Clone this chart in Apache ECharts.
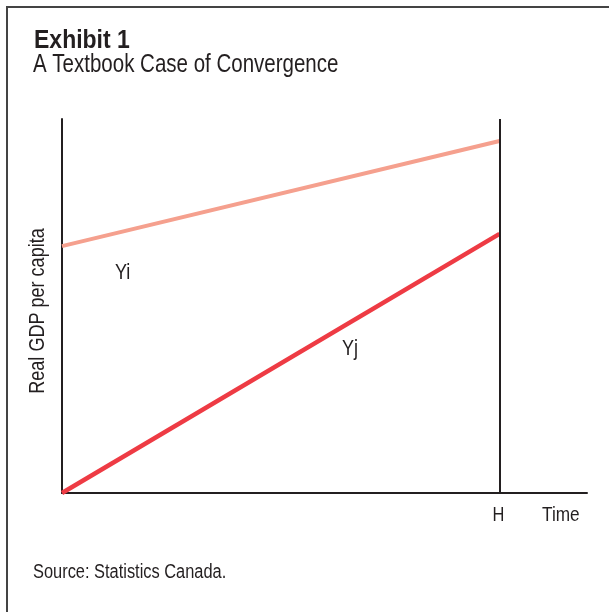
<!DOCTYPE html>
<html>
<head>
<meta charset="utf-8">
<script src="https://cdn.jsdelivr.net/npm/echarts@6/dist/echarts.min.js"></script>
<style>html,body{margin:0;padding:0;background:#fff}#c{width:609px;height:612px}</style>
</head>
<body>
<div id="c"></div>
<script>
// Data
const timeStart = 0;
const H = 10;
const timeMax = 12;
const yiValues = [66.0, 94.1];
const yjValues = [0, 69.3];
const seriesNames = ['Yi', 'Yj'];
const xTickLabel = 'H';

const SANS = "'Liberation Sans', Arial, Helvetica, sans-serif";
const NX = 0.82; // horizontal condensing to mimic a condensed face
const INK = '#231F20';

const chart = echarts.init(document.getElementById('c'), null, {renderer: 'canvas'});
chart.setOption({
  animation: false,
  backgroundColor: '#fff',
  grid: {left: 62, right: 22, top: 119, bottom: 119, containLabel: false},
  xAxis: {
    type: 'value', min: 0, max: timeMax, interval: 10,
    axisLine: {show: true, onZero: false, lineStyle: {color: INK, width: 2}},
    axisTick: {show: false},
    splitLine: {show: false},
    axisLabel: {show: false}
  },
  yAxis: {
    type: 'value', min: 0, max: 100,
    axisLine: {show: true, onZero: false, lineStyle: {color: INK, width: 2}},
    axisTick: {show: false},
    splitLine: {show: false},
    axisLabel: {show: false}
  },
  series: [
    {
      name: seriesNames[0], type: 'line', symbol: 'none', z: 3,
      lineStyle: {color: '#F5A08E', width: 4},
      data: [[timeStart, yiValues[0]], [H, yiValues[1]]]
    },
    {
      name: seriesNames[1], type: 'line', symbol: 'none', z: 3,
      lineStyle: {color: '#EE3B44', width: 4.5},
      data: [[timeStart, yjValues[0]], [H, yjValues[1]]],
      markLine: {
        silent: true, symbol: 'none', z: 4,
        label: {show: false},
        lineStyle: {color: INK, width: 2, type: 'solid'},
        data: [{xAxis: H}]
      }
    }
  ]
});

const hx = chart.convertToPixel({xAxisIndex: 0}, H);
function txt(text, x, y, size, opts) {
  opts = opts || {};
  return {
    type: 'text', x: x, y: y, scaleX: opts.scaleX == null ? NX : opts.scaleX,
    rotation: opts.rotation || 0, silent: true,
    style: {
      text: text, fontFamily: SANS, fontSize: size, fontWeight: opts.bold ? 'bold' : 'normal',
      fill: INK, align: opts.align || 'left', verticalAlign: 'middle'
    }
  };
}
chart.setOption({
  graphic: [
    {type: 'rect', shape: {x: 7, y: 7, width: 700, height: 700}, style: {fill: 'none', stroke: '#444', lineWidth: 2}, silent: true},
    txt('Exhibit 1', 34, 41, 25, {bold: true, scaleX: 0.92}),
    txt('A Textbook Case of Convergence', 33, 65, 25),
    txt('Real GDP per capita', 38, 311, 22, {align: 'center', rotation: Math.PI / 2}),
    txt(seriesNames[0], 115, 273, 22),
    txt(seriesNames[1], 342, 349, 22),
    txt(xTickLabel, hx - 1, 515, 20, {align: 'center'}),
    txt('Time', 542, 515, 21),
    txt('Source: Statistics Canada.', 33, 572, 20)
  ]
});
</script>
</body>
</html>
